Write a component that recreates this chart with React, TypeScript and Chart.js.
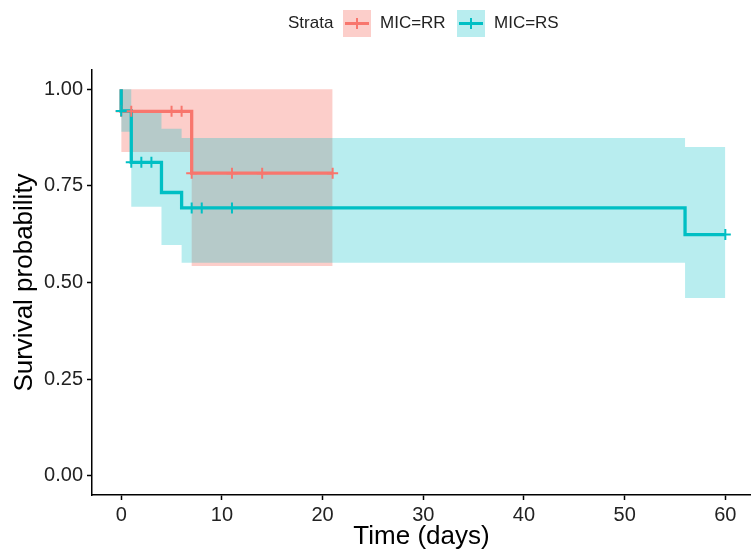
import React, { useEffect, useRef } from "react";
import { Chart, registerables } from "chart.js";

Chart.register(...registerables);

// ---- data ----
const xTicks = [0, 10, 20, 30, 40, 50, 60];
const yTicks = [0, 0.25, 0.5, 0.75, 1.0];

// MIC=RR Kaplan-Meier curve
const rrTime = [0, 0, 7, 21];
const rrSurv = [1.0, 0.943, 0.783, 0.783];
// MIC=RR confidence band
const rrBandTime = [0, 7, 21];
const rrUpper = [1.0, 1.0, 1.0];
const rrLower = [0.838, 0.543, 0.543];
// MIC=RR censored
const rrCensorTime = [0, 1, 5, 6, 7, 11, 14, 21];
const rrCensorSurv = [0.943, 0.943, 0.943, 0.943, 0.783, 0.783, 0.783, 0.783];

// MIC=RS Kaplan-Meier curve
const rsTime = [0, 0, 1, 4, 6, 56, 60];
const rsSurv = [1.0, 0.944, 0.811, 0.733, 0.693, 0.624, 0.624];
// MIC=RS confidence band
const rsBandTime = [0, 1, 4, 6, 56, 60];
const rsUpper = [1.0, 0.945, 0.898, 0.874, 0.851, 0.851];
const rsLower = [0.89, 0.696, 0.597, 0.551, 0.46, 0.46];
// MIC=RS censored
const rsCensorTime = [0, 1, 2, 3, 7, 8, 11, 60];
const rsCensorSurv = [0.944, 0.811, 0.811, 0.811, 0.693, 0.693, 0.693, 0.624];

const strataLabels = ["MIC=RR", "MIC=RS"];

const RED = "#F8766D";
const TEAL = "#00BFC4";
const RED_FILL = "rgba(248,118,109,0.36)";
const TEAL_FILL = "rgba(0,191,196,0.28)";
const FONT = "'Liberation Sans', Arial, Helvetica, sans-serif";

const pts = (xs: number[], ys: number[]) => xs.map((x, i) => ({ x, y: ys[i] }));

export default function App() {
  const ref = useRef<HTMLCanvasElement | null>(null);

  useEffect(() => {
    if (!ref.current) return;
    const chart = new Chart(ref.current, {
      type: "line",
      data: {
        datasets: [
          // ribbons
          {
            data: pts(rrBandTime, rrUpper),
            stepped: "before",
            borderWidth: 0,
            pointRadius: 0,
            backgroundColor: RED_FILL,
            fill: "+1",
            order: 10,
          } as any,
          {
            data: pts(rrBandTime, rrLower),
            stepped: "before",
            borderWidth: 0,
            pointRadius: 0,
            fill: false,
            order: 10,
          },
          {
            data: pts(rsBandTime, rsUpper),
            stepped: "before",
            borderWidth: 0,
            pointRadius: 0,
            backgroundColor: TEAL_FILL,
            fill: "+1",
            order: 9,
          },
          {
            data: pts(rsBandTime, rsLower),
            stepped: "before",
            borderWidth: 0,
            pointRadius: 0,
            fill: false,
            order: 9,
          },
          // KM lines
          {
            data: pts(rrTime, rrSurv),
            stepped: "before",
            borderColor: RED,
            borderWidth: 3.3,
            pointRadius: 0,
            fill: false,
            order: 6,
          },
          {
            data: pts(rsTime, rsSurv),
            stepped: "before",
            borderColor: TEAL,
            borderWidth: 3.3,
            pointRadius: 0,
            fill: false,
            order: 5,
          },
          // censor marks
          {
            data: pts(rrCensorTime, rrCensorSurv),
            showLine: false,
            pointStyle: "cross",
            pointRadius: 5.5,
            pointBorderWidth: 2,
            pointBorderColor: RED,
            borderColor: RED,
            fill: false,
            order: 2,
            clip: false,
          },
          {
            data: pts(rsCensorTime, rsCensorSurv),
            showLine: false,
            pointStyle: "cross",
            pointRadius: 5.5,
            pointBorderWidth: 2,
            pointBorderColor: TEAL,
            borderColor: TEAL,
            fill: false,
            order: 1,
            clip: false,
          },
        ],
      },
      options: {
        animation: false,
        responsive: false,
        devicePixelRatio: 1,
        layout: { autoPadding: false, padding: { top: 70, left: 0, right: 0, bottom: 0 } },
        plugins: {
          legend: { display: false },
          tooltip: { enabled: false },
        },
        elements: { line: { tension: 0 } },
        scales: {
          x: {
            type: "linear",
            min: -2.9,
            max: 62.55,
            afterBuildTicks: (s: any) => {
              s.ticks = xTicks.map((v) => ({ value: v }));
            },
            afterFit: (s: any) => {
              s.height = 55;
              s.paddingLeft = 0;
              s.paddingRight = 0;
            },
            grid: {
              display: true,
              drawOnChartArea: false,
              drawTicks: true,
              tickLength: 5,
              tickColor: "#000",
              tickWidth: 1.5,
            },
            border: { display: true, color: "#000", width: 1.5 },
            ticks: {
              color: "#222",
              padding: 3,
              maxRotation: 0,
              autoSkip: false,
              font: { family: FONT, size: 20 },
              callback: (v: any) => String(v),
            },
            title: {
              display: true,
              text: "Time (days)",
              color: "#000",
              padding: { top: 0, bottom: 0 },
              font: { family: FONT, size: 26, lineHeight: 1.0 },
            },
          },
          y: {
            type: "linear",
            min: -0.05,
            max: 1.05,
            afterBuildTicks: (s: any) => {
              s.ticks = yTicks.map((v) => ({ value: v }));
            },
            afterFit: (s: any) => {
              s.width = 92;
              s.paddingTop = 0;
              s.paddingBottom = 0;
            },
            grid: {
              display: true,
              drawOnChartArea: false,
              drawTicks: true,
              tickLength: 5,
              tickColor: "#000",
              tickWidth: 1.5,
            },
            border: { display: true, color: "#000", width: 1.5 },
            ticks: {
              color: "#222",
              padding: 4,
              autoSkip: false,
              font: { family: FONT, size: 20 },
              callback: (v: any) => Number(v).toFixed(2),
            },
            title: {
              display: true,
              text: "Survival probability",
              color: "#000",
              padding: { top: 12, bottom: 0 },
              font: { family: FONT, size: 26, lineHeight: 1.0 },
            },
          },
        },
      } as any,
    });
    return () => chart.destroy();
  }, []);

  const legendBox = (color: string, fill: string, left: number) => (
    <div
      style={{
        position: "absolute",
        left,
        top: 10,
        width: 28,
        height: 27,
        background: fill,
      }}
    >
      <div
        style={{
          position: "absolute",
          left: 2,
          top: 12,
          width: 24,
          height: 3,
          background: color,
        }}
      />
      <div
        style={{
          position: "absolute",
          left: 13,
          top: 8,
          width: 2,
          height: 11,
          background: color,
        }}
      />
    </div>
  );

  const textStyle: React.CSSProperties = {
    position: "absolute",
    top: 12,
    fontFamily: FONT,
    fontSize: 17,
    lineHeight: "22px",
    color: "#222",
    whiteSpace: "nowrap",
  };

  return (
    <div
      style={{
        position: "fixed",
        left: 0,
        top: 0,
        width: 751,
        height: 550,
        background: "#fff",
      }}
    >
      <canvas
        ref={ref}
        width={751}
        height={550}
        style={{ position: "absolute", left: 0, top: 0, width: 751, height: 550 }}
      />
      <div style={{ ...textStyle, left: 288 }}>Strata</div>
      {legendBox(RED, "rgba(248,118,109,0.36)", 343)}
      <div style={{ ...textStyle, left: 380 }}>{strataLabels[0]}</div>
      {legendBox(TEAL, "rgba(0,191,196,0.28)", 457)}
      <div style={{ ...textStyle, left: 494 }}>{strataLabels[1]}</div>
    </div>
  );
}
